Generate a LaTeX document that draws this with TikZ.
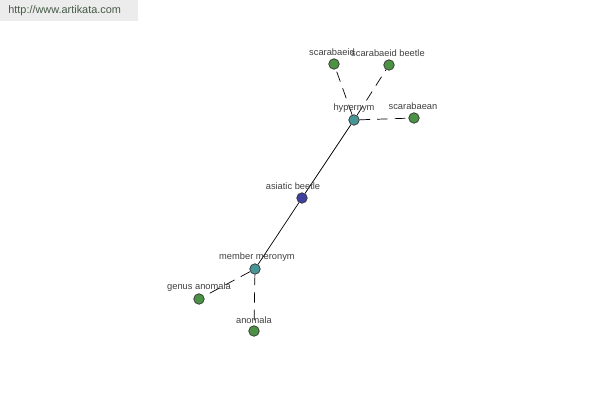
\documentclass[tikz,border=0pt]{standalone}
\usepackage{fontspec}
\setmainfont{Liberation Sans}
\definecolor{leafgreen}{RGB}{76,146,68}
\definecolor{hubteal}{RGB}{70,150,150}
\definecolor{rootblue}{RGB}{62,66,158}
\definecolor{markgray}{RGB}{236,236,236}
\definecolor{marktext}{RGB}{70,90,70}
\begin{document}
\begin{tikzpicture}[x=0.02cm,y=-0.02cm,dot/.style={circle,draw=black!80,line width=0.4pt,inner sep=0pt,minimum size=10.5*0.02cm},leaf/.style={dot,fill=leafgreen},hub/.style={dot,fill=hubteal},root/.style={dot,fill=rootblue},lbl/.style={font=\fontsize{5.3}{6}\selectfont,text=black!75,inner sep=0pt},rel/.style={dashed,dash pattern=on 6pt off 4pt,line width=0.4pt},link/.style={line width=0.4pt}]
\useasboundingbox (0,0) rectangle (600,400);
\fill[markgray] (0,0) rectangle (138,21);
\node[font=\fontsize{6.2}{7}\selectfont,text=marktext,anchor=west,inner sep=0pt] (mark) at (8,11) {http://www.artikata.com};
% nodes
\node[root] (ab) at (302,198) {};
\node[hub] (hyp) at (354,120) {};
\node[hub] (mer) at (255,269) {};
\node[leaf] (sc) at (334,64) {};
\node[leaf] (scb) at (389,65) {};
\node[leaf] (sca) at (414,118) {};
\node[leaf] (gen) at (199,299) {};
\node[leaf] (ano) at (254,331) {};
% edges
\draw[link] (hyp) -- (ab);
\draw[link] (ab) -- (mer);
\draw[rel] (hyp) -- (sc);
\draw[rel] (hyp) -- (scb);
\draw[rel] (hyp) -- (sca);
\draw[rel] (mer) -- (gen);
\draw[rel] (mer) -- (ano);
% labels
\node[lbl] (abl) at (293,186) {asiatic beetle};
\node[lbl] (hypl) at (354,108) {hypernym};
\node[lbl] (merl) at (257,257) {member meronym};
\node[lbl] (scl) at (332,52) {scarabaeid};
\node[lbl] (scbl) at (388,53) {scarabaeid beetle};
\node[lbl] (scal) at (413,106) {scarabaean};
\node[lbl] (genl) at (199,287) {genus anomala};
\node[lbl] (anol) at (254,320) {anomala};
\end{tikzpicture}
\end{document}
